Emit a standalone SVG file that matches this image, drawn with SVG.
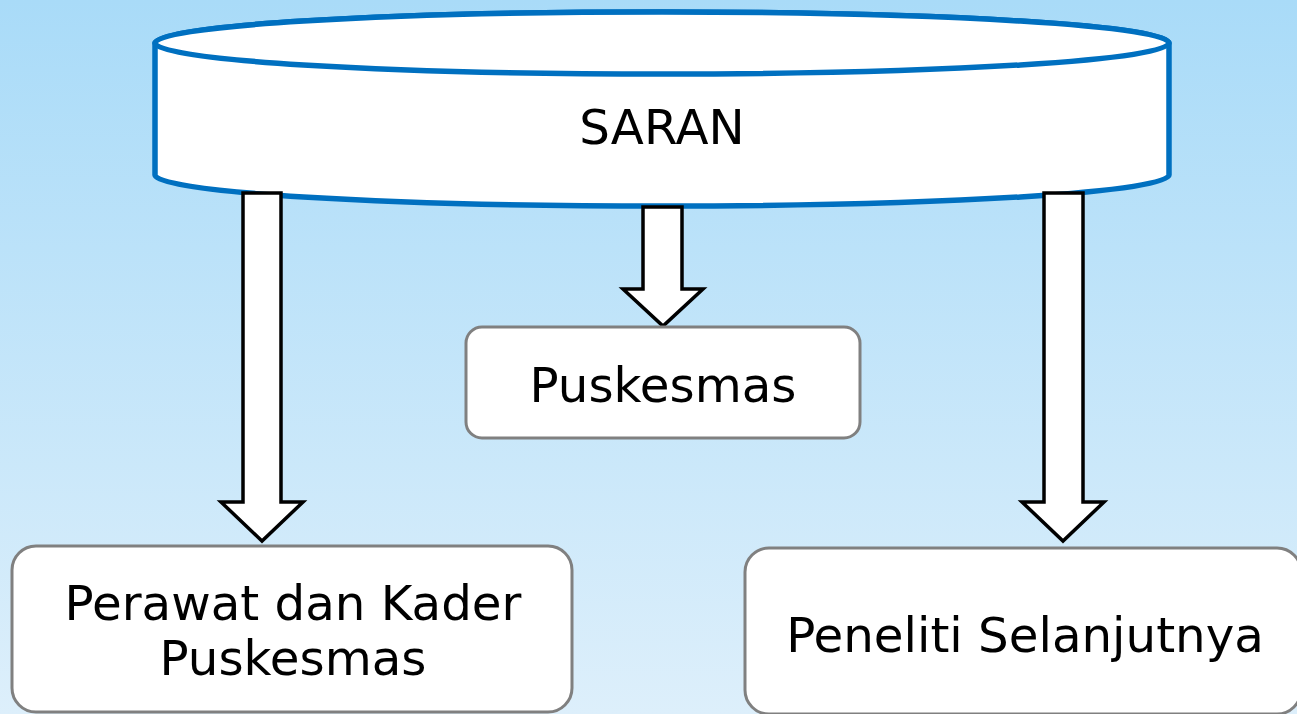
<svg xmlns="http://www.w3.org/2000/svg" width="1297" height="714" viewBox="0 0 1297 714">
<defs>
<linearGradient id="bg" x1="0" y1="0" x2="0" y2="1">
<stop offset="0" stop-color="#a9dbf8"/>
<stop offset="1" stop-color="#ddeffb"/>
</linearGradient>
<style>
.box{fill:#ffffff;stroke:#808080;stroke-width:3}
.cyl{fill:#ffffff;stroke:#0070c0;stroke-width:5.5}
.arr{fill:#ffffff;stroke:#000000;stroke-width:3.5;stroke-linejoin:miter}
.t{font-family:"DejaVu Sans",Verdana,sans-serif;font-size:48.3px;fill:#000000;text-anchor:middle}
</style>
</defs>
<rect x="0" y="0" width="1297" height="714" fill="url(#bg)"/>
<g id="saran">
<path class="cyl" d="M155,43 L155,175 A507,31 0 0 0 1169,175 L1169,43 A507,31 0 0 0 155,43 Z"/>
<ellipse class="cyl" cx="662" cy="43" rx="507" ry="31"/>
<text class="t" x="662" y="144">SARAN</text>
</g>
<g id="connectors">
<path class="arr" d="M243,193 L281,193 L281,502 L303,502 L262,541 L221,502 L243,502 Z"/>
<path class="arr" d="M643,207 L682,207 L682,289 L703,289 L663,326 L623,289 L643,289 Z"/>
<path class="arr" d="M1044,193 L1083,193 L1083,502 L1104,502 L1063,541 L1022,502 L1044,502 Z"/>
</g>
<g id="puskesmas">
<rect class="box" x="466" y="327" width="394" height="111" rx="16"/>
<text class="t" x="663" y="402">Puskesmas</text>
</g>
<g id="perawat">
<rect class="box" x="12" y="546" width="560" height="166" rx="24"/>
<text class="t" x="293" y="620">Perawat dan Kader</text>
<text class="t" x="293" y="675">Puskesmas</text>
</g>
<g id="peneliti">
<rect class="box" x="745" y="548" width="556" height="166" rx="24"/>
<text class="t" x="1025" y="652">Peneliti Selanjutnya</text>
</g>
</svg>
